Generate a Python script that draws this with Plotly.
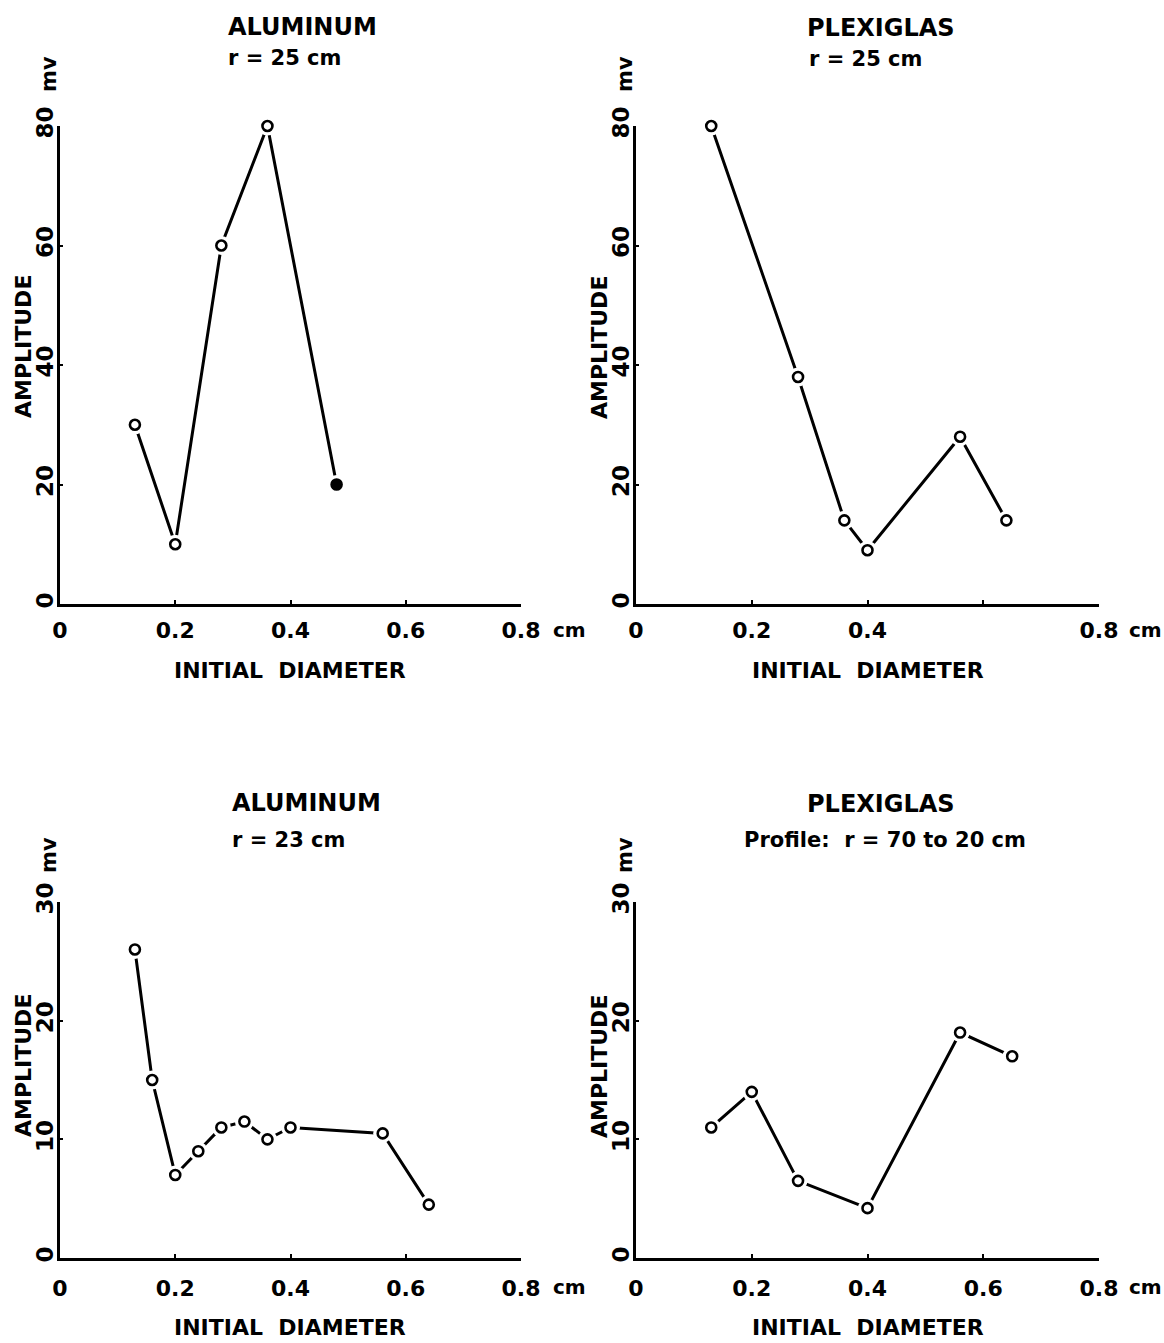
import plotly.graph_objects as go

# ---------------- data ----------------
al25_x = [0.13, 0.20, 0.28, 0.36, 0.48]
al25_y = [30, 10, 60, 80, 20]
al25_fill = ["white", "white", "white", "white", "black"]

px25_x = [0.13, 0.28, 0.36, 0.40, 0.56, 0.64]
px25_y = [80, 38, 14, 9, 28, 14]

al23_x = [0.13, 0.16, 0.20, 0.24, 0.28, 0.32, 0.36, 0.40, 0.56, 0.64]
al23_y = [26, 15, 7, 9, 11, 11.5, 10, 11, 10.5, 4.5]

pxpr_x = [0.13, 0.20, 0.28, 0.40, 0.56, 0.65]
pxpr_y = [11, 14, 6.5, 4.2, 19, 17]

x_ticks = [0, 0.2, 0.4, 0.6, 0.8]
x_labels_tl = ["0", "0.2", "0.4", "0.6", "0.8"]
x_labels_tr = ["0", "0.2", "0.4", "", "0.8"]
x_labels_b = ["0", "0.2", "0.4", "0.6", "0.8"]
y_ticks_top = [0, 20, 40, 60, 80]
y_ticks_bot = [0, 10, 20, 30]

titles = ["ALUMINUM", "PLEXIGLAS", "ALUMINUM", "PLEXIGLAS"]
subtitles = ["r = 25 cm", "r = 25 cm", "r = 23 cm", "Profile:  r = 70 to 20 cm"]

W, H = 1164, 1343
FONT = "DejaVu Sans"


def px_x(p):
    return p / W


def px_y(p):
    return 1 - p / H


fig = go.Figure()

panels = [
    (al25_x, al25_y, al25_fill, "x", "y"),
    (px25_x, px25_y, None, "x2", "y2"),
    (al23_x, al23_y, None, "x3", "y3"),
    (pxpr_x, pxpr_y, None, "x4", "y4"),
]

for xs, ys, fills, xa, ya in panels:
    fig.add_trace(go.Scatter(x=xs, y=ys, mode="lines", xaxis=xa, yaxis=ya,
                             line=dict(color="black", width=3),
                             cliponaxis=False, showlegend=False, hoverinfo="skip"))
    fig.add_trace(go.Scatter(x=xs, y=ys, mode="markers", xaxis=xa, yaxis=ya,
                             marker=dict(symbol="circle", size=19, color="white",
                                         line=dict(width=0)),
                             cliponaxis=False, showlegend=False, hoverinfo="skip"))
    fig.add_trace(go.Scatter(x=xs, y=ys, mode="markers", xaxis=xa, yaxis=ya,
                             marker=dict(symbol="circle", size=10,
                                         color=fills if fills else "white",
                                         line=dict(color="black", width=2.6)),
                             cliponaxis=False, showlegend=False))

left_dom = [px_x(60), px_x(521)]
right_dom = [px_x(636), px_x(1099)]
top_dom = [px_y(604), px_y(126)]
bot_dom = [px_y(1258), px_y(902)]

tickfont = dict(family=FONT, size=22, color="black", weight="bold")
ytickfont = dict(family=FONT, size=23, color="black", weight="bold")


def xaxis(dom, anchor, labels, standoff):
    return dict(domain=dom, anchor=anchor, range=[0, 0.8], showgrid=False,
                zeroline=False, showline=True, linecolor="black", linewidth=3,
                tickmode="array", tickvals=x_ticks, ticktext=labels,
                ticks="inside", ticklen=4, tickwidth=2, tickcolor="black",
                tickfont=tickfont, ticklabelstandoff=standoff, automargin=False)


def yaxis(dom, anchor, rng, vals):
    return dict(domain=dom, anchor=anchor, range=rng, showgrid=False,
                zeroline=False, showline=True, linecolor="black", linewidth=3,
                tickmode="array", tickvals=vals, ticktext=[str(v) for v in vals],
                ticks="inside", ticklen=3, tickwidth=2, tickcolor="black",
                tickangle=-90, tickfont=ytickfont, ticklabelstandoff=-5,
                automargin=False)


fig.update_layout(
    width=W, height=H, margin=dict(l=0, r=0, t=0, b=0),
    paper_bgcolor="white", plot_bgcolor="white", showlegend=False,
    xaxis=xaxis(left_dom, "y", x_labels_tl, 5),
    yaxis=yaxis(top_dom, "x", [0, 80], y_ticks_top),
    xaxis2=xaxis(right_dom, "y2", x_labels_tr, 5),
    yaxis2=yaxis(top_dom, "x2", [0, 80], y_ticks_top),
    xaxis3=xaxis(left_dom, "y3", x_labels_b, 9),
    yaxis3=yaxis(bot_dom, "x3", [0, 30], y_ticks_bot),
    xaxis4=xaxis(right_dom, "y4", x_labels_b, 9),
    yaxis4=yaxis(bot_dom, "x4", [0, 30], y_ticks_bot),
)

ann = []


def text(x, y, s, size, xanchor="center", angle=0):
    ann.append(dict(x=px_x(x), y=px_y(y), xref="paper", yref="paper", text=s,
                    showarrow=False, xanchor=xanchor, yanchor="middle",
                    textangle=angle,
                    font=dict(family=FONT, size=size, color="black", weight="bold")))


# panel titles
text(226, 27, titles[0], 24, "left")
text(226, 58, subtitles[0], 21, "left")
text(805, 28, titles[1], 24, "left")
text(807, 59, subtitles[1], 21, "left")
text(230, 803, titles[2], 24, "left")
text(230, 840, subtitles[2], 21, "left")
text(805, 804, titles[3], 24, "left")
text(742, 840, subtitles[3], 21, "left")

# axis titles
for cx, cy in [(290, 670), (868, 670), (290, 1327), (868, 1327)]:
    text(cx, cy, "INITIAL\u00a0\u00a0DIAMETER", 22)
for cx, cy in [(23, 347), (599, 347), (23, 1066), (599, 1066)]:
    text(cx, cy, "AMPLITUDE", 22, angle=-90)

# units
for cx, cy in [(49, 74), (625, 74), (49, 855), (625, 855)]:
    text(cx, cy, "mv", 21, angle=-90)
for cx, cy in [(551, 630), (1127, 630), (551, 1287), (1127, 1287)]:
    text(cx, cy, "cm", 20, "left")

fig.update_layout(annotations=ann)
fig.write_html("out.html")
